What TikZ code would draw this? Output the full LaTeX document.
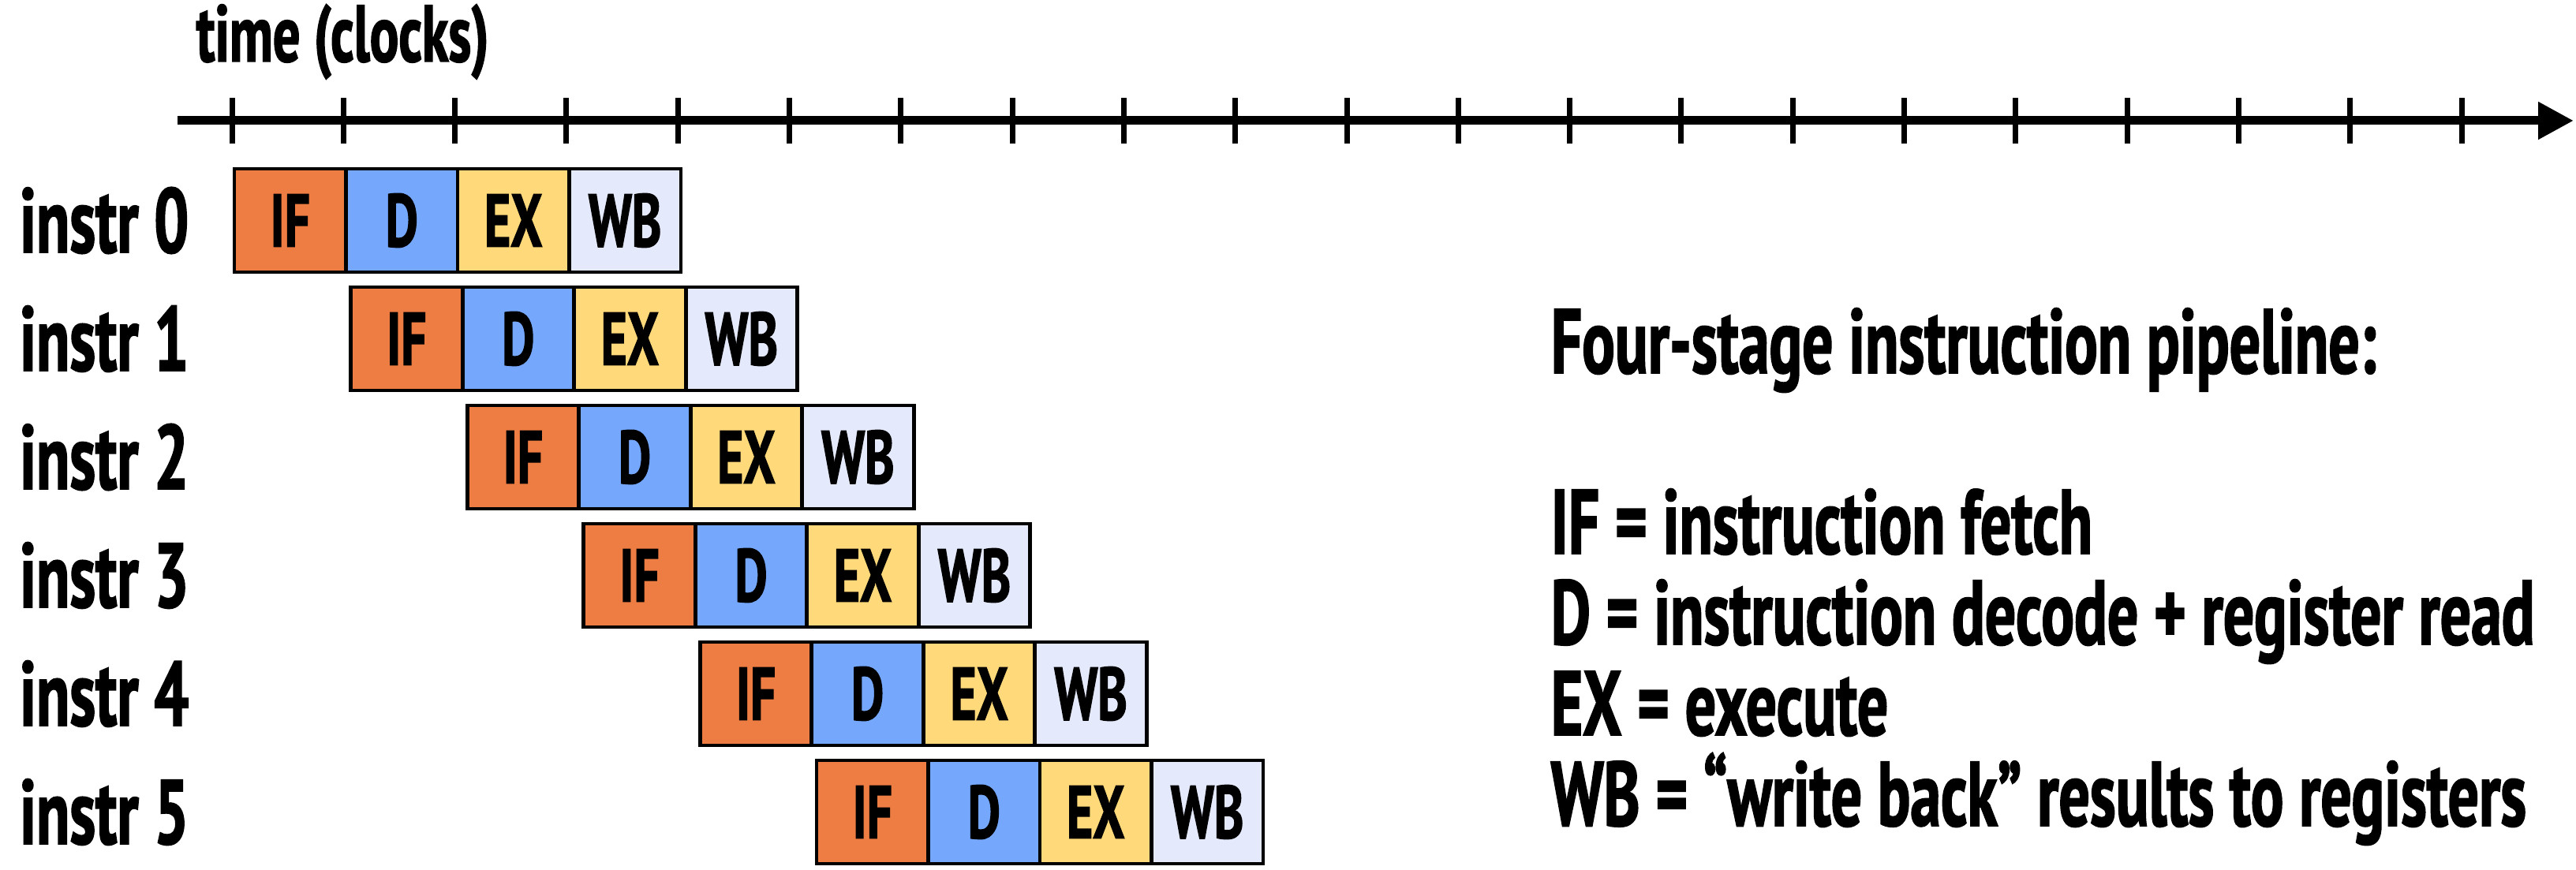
\documentclass[tikz,border=0pt]{standalone}
\usepackage{fontspec}
\setmainfont{PT Sans}[FakeStretch=0.67,FakeBold=1.5]
\usetikzlibrary{arrows.meta,positioning}

\definecolor{fetchorange}{RGB}{237,125,66}
\definecolor{decodeblue}{RGB}{117,168,252}
\definecolor{execyellow}{RGB}{255,217,122}
\definecolor{wbviolet}{RGB}{228,234,252}

\tikzset{
  stagebox/.style={draw, line width=1.4pt, minimum width=1.415cm, minimum height=1.31cm,
    inner sep=0pt, outer sep=0pt, font=\fontsize{27}{27}\selectfont\bfseries},
  rowlabel/.style={anchor=east, inner sep=0pt, font=\fontsize{33}{33}\selectfont\bfseries},
  legend/.style={anchor=base west, inner sep=0pt, font=\fontsize{33}{33}\selectfont\bfseries},
}

\begin{document}
\begin{tikzpicture}[>={Triangle[length=0.45cm,width=0.45cm]}]
  \useasboundingbox (0,0) rectangle (32.65,11.03);

  % time axis with one tick per clock
  \coordinate (axisstart) at (2.25,9.50);
  \coordinate (axisend) at (32.62,9.50);
  \draw[->, line width=0.11cm] (axisstart) -- (axisend);
  \foreach \t in {0,...,20}
    \draw[line width=0.07cm] (2.94+1.413*\t,9.21) -- ++(0,0.58);
  \node[anchor=base west, inner sep=0pt, font=\fontsize{29}{29}\selectfont\bfseries] (timelabel) at (2.48,10.25) {time (clocks)};

  % one row per instruction, each one clock later
  \foreach \i in {0,...,5} {
    \node[stagebox, fill=fetchorange, anchor=north west] (if\i) at (2.97+1.476*\i, 8.89-1.50*\i) {IF};
    \node[stagebox, fill=decodeblue, right=0pt of if\i] (d\i) {D};
    \node[stagebox, fill=execyellow, right=0pt of d\i] (ex\i) {EX};
    \node[stagebox, fill=wbviolet, right=0pt of ex\i] (wb\i) {WB};
    \node[rowlabel] (instr\i) at (2.40, 8.235-1.50*\i) {instr \i};
  }

  % stage legend
  \node[legend] (title) at (19.65,6.30) {Four-stage instruction pipeline:};
  \node[legend] (ifdef) at (19.65,4.01) {IF = instruction fetch};
  \node[legend] (ddef) at (19.65,2.86) {D = instruction decode + register read};
  \node[legend] (exdef) at (19.65,1.71) {EX = execute};
  \node[legend] (wbdef) at (19.65,0.56) {WB = “write back” results to registers};
\end{tikzpicture}
\end{document}
